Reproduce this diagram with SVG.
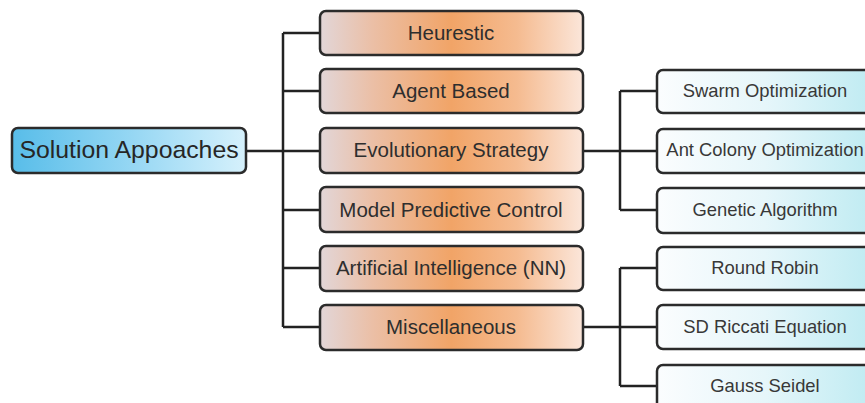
<svg xmlns="http://www.w3.org/2000/svg" width="865" height="403" viewBox="0 0 865 403">
  <defs>
    <linearGradient id="gRoot" x1="0" y1="0" x2="1" y2="0">
      <stop offset="0" stop-color="#58bde9"/>
      <stop offset="0.5" stop-color="#94d6f3"/>
      <stop offset="1" stop-color="#d6f1fc"/>
    </linearGradient>
    <linearGradient id="gMid" x1="0" y1="0" x2="1" y2="0">
      <stop offset="0" stop-color="#e2d6d8"/>
      <stop offset="0.2" stop-color="#ebbfa6"/>
      <stop offset="0.5" stop-color="#f1a467"/>
      <stop offset="0.75" stop-color="#f5bb90"/>
      <stop offset="1" stop-color="#fbe6da"/>
    </linearGradient>
    <linearGradient id="gLeaf" x1="0" y1="0" x2="1" y2="0">
      <stop offset="0" stop-color="#fbfdfe"/>
      <stop offset="0.5" stop-color="#e6f6fa"/>
      <stop offset="1" stop-color="#bfebf2"/>
    </linearGradient>
  </defs>
  <style>
    .box { stroke: #2b2b2b; stroke-width: 2.5; }
    .root { fill: url(#gRoot); }
    .mid { fill: url(#gMid); }
    .leaf { fill: url(#gLeaf); }
    .wire { fill: none; stroke: #222; stroke-width: 2.5; }
    text { font-family: "Liberation Sans", Arial, sans-serif; fill: #2e2e2e; text-anchor: middle; dominant-baseline: central; }
    .t-root { font-size: 24.8px; fill: #262626; }
    .t-mid { font-size: 20.5px; }
    .t-leaf { font-size: 18.4px; fill: #383838; }
  </style>

  <!-- connectors -->
  <g id="connectors">
    <path class="wire" d="M246 151 H283"/>
    <path class="wire" d="M283 33 V327"/>
    <path class="wire" d="M283 33 H320 M283 91 H320 M283 151 H320 M283 210 H320 M283 268 H320 M283 327 H320"/>
    <path class="wire" d="M583 151 H657 M620 91 V210 M620 91 H657 M620 210 H657"/>
    <path class="wire" d="M583 327 H657 M620 268 V386 M620 268 H657 M620 386 H657"/>
  </g>

  <!-- root -->
  <g id="root">
    <rect class="box root" x="12" y="128" width="234" height="45" rx="6"/>
    <text class="t-root" x="129" y="149">Solution Appoaches</text>
  </g>

  <!-- approaches -->
  <g id="heurestic">
    <rect class="box mid" x="320" y="11" width="263" height="44" rx="6"/>
    <text class="t-mid" x="451" y="32">Heurestic</text>
  </g>
  <g id="agent-based">
    <rect class="box mid" x="320" y="69" width="263" height="44" rx="6"/>
    <text class="t-mid" x="451" y="90">Agent Based</text>
  </g>
  <g id="evolutionary-strategy">
    <rect class="box mid" x="320" y="128" width="263" height="45" rx="6"/>
    <text class="t-mid" x="451" y="149">Evolutionary Strategy</text>
  </g>
  <g id="model-predictive-control">
    <rect class="box mid" x="320" y="187" width="263" height="45" rx="6"/>
    <text class="t-mid" x="451" y="209">Model Predictive Control</text>
  </g>
  <g id="artificial-intelligence">
    <rect class="box mid" x="320" y="246" width="263" height="45" rx="6"/>
    <text class="t-mid" x="451" y="267">Artificial Intelligence (NN)</text>
  </g>
  <g id="miscellaneous">
    <rect class="box mid" x="320" y="305" width="263" height="45" rx="6"/>
    <text class="t-mid" x="451" y="326">Miscellaneous</text>
  </g>

  <!-- evolutionary leaves -->
  <g id="swarm-optimization">
    <rect class="box leaf" x="657" y="70" width="216" height="43" rx="6"/>
    <text class="t-leaf" x="765" y="90">Swarm Optimization</text>
  </g>
  <g id="ant-colony-optimization">
    <rect class="box leaf" x="657" y="129" width="216" height="44" rx="6"/>
    <text class="t-leaf" x="765" y="149">Ant Colony Optimization</text>
  </g>
  <g id="genetic-algorithm">
    <rect class="box leaf" x="657" y="188" width="216" height="45" rx="6"/>
    <text class="t-leaf" x="765" y="209">Genetic Algorithm</text>
  </g>

  <!-- miscellaneous leaves -->
  <g id="round-robin">
    <rect class="box leaf" x="657" y="247" width="216" height="43" rx="6"/>
    <text class="t-leaf" x="765" y="267">Round Robin</text>
  </g>
  <g id="sd-riccati-equation">
    <rect class="box leaf" x="657" y="305" width="216" height="44" rx="6"/>
    <text class="t-leaf" x="765" y="326">SD Riccati Equation</text>
  </g>
  <g id="gauss-seidel">
    <rect class="box leaf" x="657" y="365" width="216" height="45" rx="6"/>
    <text class="t-leaf" x="765" y="385">Gauss Seidel</text>
  </g>
</svg>
